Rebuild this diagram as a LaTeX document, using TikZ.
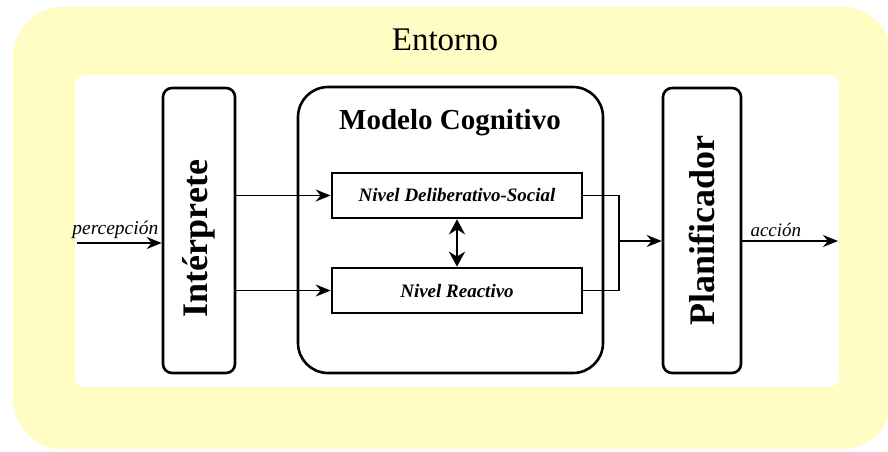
\documentclass[tikz,border=0pt]{standalone}
\usepackage{fontspec}
\usepackage{graphicx}
\setmainfont{Liberation Serif}
\usetikzlibrary{arrows.meta,positioning}
\definecolor{entorno}{RGB}{255,252,196}
\newcommand{\fsz}[1]{\fontsize{#1}{#1}\selectfont}

\begin{document}
\begin{tikzpicture}[x=1pt,y=-1pt,
    caja/.style={draw,line width=2.6pt,rounded corners=9pt,minimum width=#1,minimum height=285pt,inner sep=0pt,font=\fsz{36}\bfseries},
    nivel/.style={draw,line width=2.6pt,minimum width=250pt,minimum height=45pt,inner sep=0pt,font=\fsz{19}\bfseries\itshape},
    flecha/.style={line width=1.8pt,-{Stealth[length=15pt,width=12pt]}},
    linea/.style={line width=1.8pt}]
  \useasboundingbox (0,0) rectangle (888,451);
  % entorno
  \fill[entorno,rounded corners=50pt] (13,7) rectangle (892,449);
  \fill[white,rounded corners=10pt] (75,75) rectangle (839,387);
  \node[font=\fsz{33}] (entorno) at (445,40) {Entorno};
  % cajas
  \node[caja=72pt] (interp) at (199,230.5) {\rotatebox{90}{\hspace*{-16pt}Intérprete}};
  \node[draw,line width=2.6pt,rounded corners=30pt,minimum width=305pt,minimum height=286pt] (modelo) at (450.5,230) {};
  \node[font=\fsz{29}\bfseries] (titulo) at (450,123) {Modelo Cognitivo};
  \node[nivel] (delib) at (457,195.5) {Nivel Deliberativo-Social};
  \node[nivel] (react) at (457,290.5) {Nivel Reactivo};
  \node[caja=78pt] (plan) at (702,230.5) {\rotatebox{90}{Planificador}};
  % flechas
  \coordinate (perc) at (77,243);
  \draw[flecha] (perc) -- (interp.west |- perc) node[midway,above,xshift=-4pt,font=\fsz{19.5}\itshape] {percepción};
  \draw[flecha] (interp.east |- delib.west) -- (delib.west);
  \draw[flecha] (interp.east |- react.west) -- (react.west);
  \draw[line width=2.8pt,{Stealth[length=15pt,width=16pt]}-{Stealth[length=15pt,width=16pt]}] (delib) -- (react);
  \coordinate (junta) at (619,241);
  \draw[linea] (delib.east) -| (junta) |- (react.east);
  \draw[flecha] (junta) -- (plan.west |- junta);
  \coordinate (salida) at (838,241);
  \draw[flecha] (plan.east |- salida) -- (salida) node[pos=0,above right,xshift=4pt,font=\fsz{19}\itshape] {acción};
\end{tikzpicture}
\end{document}
